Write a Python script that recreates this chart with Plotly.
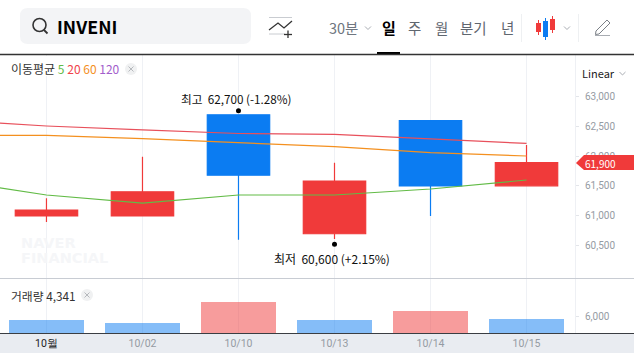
import plotly.graph_objects as go

W, H = 634, 353
positions = [0, 1, 2, 3, 4, 5]
dates = ["<span style='color:#222'>10월</span>", "10/02", "10/10", "10/13", "10/14", "10/15"]
opens = [60990, 60990, 62700, 60690, 62600, 61500]
highs = [61290, 61990, 62700, 61890, 62600, 62190]
lows = [60890, 60990, 60590, 60600, 60990, 61500]
closes = [61090, 61400, 61680, 61580, 61500, 61890]
volumes = [4590, 3530, 10950, 4590, 7770, 4940]
ma_x = [-1, 0, 1, 2, 3, 4, 5]
ma5 = [61590, 61345, 61209, 61345, 61345, 61446, 61598]
ma20 = [62611, 62510, 62443, 62383, 62367, 62285, 62215]
ma60 = [62353, 62353, 62296, 62228, 62160, 62059, 62003]
price_ticks = [60500, 61000, 61500, 62000, 62500, 63000]
price_labels = ["60,500", "61,000", "61,500", "62,000", "62,500", "63,000"]
vol_ticks = [6000]
vol_labels = ["6,000"]

RED, BLUE = "#F03A3A", "#0B7CF2"
FONT = "Noto Sans CJK KR, Roboto, sans-serif"
TICK = "#959BA3"
def X(p): return p / W
def Y(p): return 1 - p / H
def P(*pts, close=False):
    s = "M " + " L ".join(f"{X(a):.5f},{Y(b):.5f}" for a, b in pts)
    return s + (" Z" if close else "")

fig = go.Figure()
fig.add_trace(go.Candlestick(
    x=positions, open=opens, high=highs, low=lows, close=closes, whiskerwidth=0,
    increasing=dict(line=dict(color=RED, width=1.2), fillcolor=RED),
    decreasing=dict(line=dict(color=BLUE, width=1.2), fillcolor=BLUE),
    xaxis="x", yaxis="y"))
for vals, col in [(ma20, "#E8505B"), (ma60, "#F4901F"), (ma5, "#62BB46")]:
    fig.add_trace(go.Scatter(x=ma_x, y=vals, mode="lines", line=dict(color=col, width=1.2),
                             xaxis="x", yaxis="y"))
fig.add_trace(go.Bar(
    x=positions, y=volumes, width=0.785,
    marker=dict(color=[RED if c < o else BLUE for o, c in zip(opens, closes)], opacity=0.5, line=dict(width=0)),
    xaxis="x2", yaxis="y2"))

shapes, ann = [], []
def line(a, b, c, d, col, w=1, layer="above"):
    shapes.append(dict(type="line", xref="paper", yref="paper", x0=X(a), y0=Y(b), x1=X(c), y1=Y(d),
                       line=dict(color=col, width=w), layer=layer))
def rect(a, b, c, d, col, layer="above"):
    shapes.append(dict(type="rect", xref="paper", yref="paper", x0=X(a), y0=Y(b), x1=X(c), y1=Y(d),
                       fillcolor=col, line=dict(width=0), layer=layer))
def path(d, col=None, lc=None, w=1, layer="above"):
    shapes.append(dict(type="path", xref="paper", yref="paper", path=d, fillcolor=col,
                       line=dict(color=lc, width=w if lc else 0), layer=layer))
def circle(cx, cy, r, fill, lc=None, w=1):
    shapes.append(dict(type="circle", xref="paper", yref="paper", x0=X(cx-r), y0=Y(cy-r), x1=X(cx+r), y1=Y(cy+r),
                       fillcolor=fill, line=dict(color=lc, width=w if lc else 0)))
def text(t, x, y, size=12, col="#222", anchor="left", family=FONT, **kw):
    ann.append(dict(text=t, x=X(x), y=Y(y), xref="paper", yref="paper", xanchor=anchor, yanchor="middle",
                    showarrow=False, font=dict(family=family, size=size, color=col), borderpad=0, **kw))

# header band
path(f"M {X(28)},{Y(8)} L {X(243)},{Y(8)} Q {X(251)},{Y(8)} {X(251)},{Y(16)} L {X(251)},{Y(36)} Q {X(251)},{Y(44)} {X(243)},{Y(44)} "
     f"L {X(28)},{Y(44)} Q {X(20)},{Y(44)} {X(20)},{Y(36)} L {X(20)},{Y(16)} Q {X(20)},{Y(8)} {X(28)},{Y(8)} Z", col="#F3F4F6")
circle(39.5, 25, 6.5, "rgba(0,0,0,0)", "#333", 1.6)
line(44, 30, 47.5, 33.5, "#333", 1.8)
text("<b>INVENI</b>", 56, 26, 17.8, "#000")
line(269, 17.5, 292, 17.5, "#C9CCD1"); line(269, 34, 285, 34, "#C9CCD1")
path(P((269, 30), (278, 23), (284, 28), (292, 21)), lc="#333", w=1.3)
line(284, 34.5, 292, 34.5, "#333", 1.3); line(288, 30.5, 288, 38, "#333", 1.3)
text("30분", 328, 28, 14.5, "#6F7680")
path(P((365, 26.5), (368, 29.5), (371, 26.5)), lc="#A9ADB3")
text("<b>일</b>", 389, 27, 15, "#000", "center")
for t, x in [("주", 414), ("월", 441.5), ("분기", 473.5), ("년", 507.5)]:
    text(t, x, 27.5, 14.5, "#5F666F", "center")
rect(377, 52, 400, 55, "#000")
line(521.5, 14, 521.5, 42, "#EEF0F2"); line(578.5, 14, 578.5, 42, "#EEF0F2")
for a, b, c, d, col, cx in [(536, 23, 541, 32, RED, 538.5), (543, 21, 548, 37, BLUE, 545.5), (550, 19, 555, 30, RED, 552.5)]:
    rect(a, b, c, d, col)
    line(cx, b - 3, cx, d + 3, col, 1)
path(P((564, 26.5), (567, 29.5), (570, 26.5)), lc="#A9ADB3")
path(P((596, 31), (607, 20), (610, 23), (599, 34), (595.5, 34.5), close=True), lc="#7A7F86", w=1)
line(595, 35.5, 610, 35.5, "#A9ADB3")

# panels
rect(0, 56, 141, 76, "#FFFFFF")
line(0, 54.5, W, 54.5, "#333", 1.6)
line(0, 278.5, W, 278.5, "#C8CCD3", 1.2)
rect(0, 333, W, 353, "#E9ECF1", layer="below")
line(0, 333.5, W, 333.5, "#3A3D42", 1.2)

# extreme markers, pinned to the data
shapes.append(dict(type="circle", xref="x", yref="y", xsizemode="pixel", ysizemode="pixel",
                   xanchor=positions[2], yanchor=max(highs), x0=-2.5, x1=2.5, y0=1.5, y1=6.5,
                   fillcolor="#000", line=dict(width=0)))
shapes.append(dict(type="circle", xref="x", yref="y", xsizemode="pixel", ysizemode="pixel",
                   xanchor=positions[3], yanchor=min(lows), x0=-2.5, x1=2.5, y0=-7, y1=-2,
                   fillcolor="#000", line=dict(width=0)))
text("최고  62,700 (-1.28%)", 179.5, 99, 11.7, "#111")
text("최저  60,600 (+2.15%)", 272.5, 258, 12, "#111")

# legends
text("이동평균 <span style='color:#62BB46'>5</span> <span style='color:#F0434B'>20</span> "
     "<span style='color:#F4901F'>60</span> <span style='color:#A25DCB'>120</span>", 9.5, 68.5, 12, "#333")
circle(131, 69, 6, "#F0F1F2")
line(128.5, 66.5, 133.5, 71.5, "#B5B8BC"); line(133.5, 66.5, 128.5, 71.5, "#B5B8BC")
text("거래량 4,341", 9.5, 295, 11.8, "#333")
circle(87, 295, 6, "#F0F1F2")
line(84.5, 292.5, 89.5, 297.5, "#B5B8BC"); line(89.5, 292.5, 84.5, 297.5, "#B5B8BC")

# watermark
text("<b>NAVER</b>", 20, 242.5, 14.5, "#F5F6F8", family="DejaVu Sans")
text("<b>FINANCIAL</b>", 20, 257.5, 14.5, "#F5F6F8", family="DejaVu Sans")

# right side
text("Linear", 581, 73, 11, "#222")
path(P((619.5, 72), (622.5, 75), (625.5, 72)), lc="#A9ADB3")
path(P((576, 163), (584, 155), (W, 155), (W, 170), (584, 170), (576.5, 163.5), close=True), col=RED)
text("61,900", 584, 163, 10, "#FFFFFF")

fig.update_layout(
    width=W, height=H, autosize=False, margin=dict(l=0, r=0, t=0, b=0),
    paper_bgcolor="#FFFFFF", plot_bgcolor="#FFFFFF", showlegend=False,
    boxgap=0.35, boxgroupgap=0, bargap=0, font=dict(family=FONT),
    shapes=shapes, annotations=ann,
    xaxis=dict(domain=[0, 575 / W], range=[-0.484, 5.505], tickvals=positions, showticklabels=False, ticks="",
               showgrid=True, gridcolor="#EFF1F5", gridwidth=1, zeroline=False, rangeslider=dict(visible=False),
               anchor="y", fixedrange=True),
    xaxis2=dict(domain=[0, 575 / W], range=[-0.484, 5.505], tickvals=positions, ticktext=dates, ticks="",
                showgrid=True, gridcolor="#EFF1F5", gridwidth=1, zeroline=False, anchor="y2", showline=False,
                tickfont=dict(family="Roboto, sans-serif", size=10.5, color=TICK), ticklabelstandoff=2),
    yaxis=dict(domain=[Y(278), Y(55)], range=[59943, 63709], side="right", tickvals=price_ticks, ticktext=price_labels,
               showgrid=False, zeroline=False, showline=True, linecolor="#EEF0F4", ticks="outside", ticklen=3,
               tickcolor="#E3E5E9", tickfont=dict(family="Roboto, sans-serif", size=10, color=TICK),
               ticklabelstandoff=4, anchor="x"),
    yaxis2=dict(domain=[Y(333), Y(278)], range=[0, 19412], side="right", tickvals=vol_ticks, ticktext=vol_labels,
                showgrid=False, zeroline=False, showline=True, linecolor="#EEF0F4", ticks="outside", ticklen=3,
                tickcolor="#E3E5E9", tickfont=dict(family="Roboto, sans-serif", size=10, color=TICK),
                ticklabelstandoff=4, anchor="x2"),
)
fig.write_html("out.html", config={"displayModeBar": False},
               post_script="document.body.style.margin='0';document.body.style.overflow='hidden';")
